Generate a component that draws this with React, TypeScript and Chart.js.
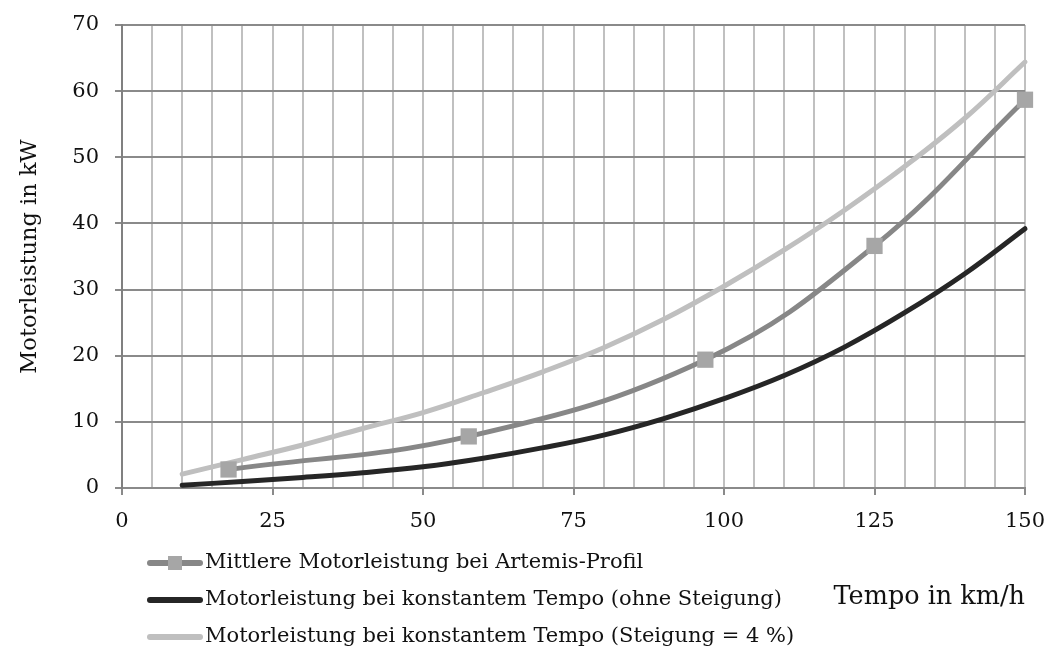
import React, { useEffect, useRef } from "react";
import { Chart, registerables } from "chart.js";

Chart.register(...registerables);

// ---- data ----
const speedGrid = [10, 20, 30, 40, 50, 60, 70, 80, 90, 100, 110, 120, 130, 140, 150];
const powerFlat = [0.4, 1.0, 1.6, 2.3, 3.2, 4.5, 6.1, 8.0, 10.5, 13.5, 17.0, 21.3, 26.5, 32.4, 39.2];
const powerSlope = [2.1, 4.3, 6.5, 9.0, 11.4, 14.4, 17.6, 21.2, 25.5, 30.5, 36.0, 42.0, 48.6, 55.9, 64.4];
const artemisSpeed = [17.7, 57.6, 96.9, 125, 150];
const artemisPower = [2.8, 7.8, 19.4, 36.6, 58.7];

const seriesLabels = [
  "Mittlere Motorleistung bei Artemis-Profil",
  "Motorleistung bei konstantem Tempo (ohne Steigung)",
  "Motorleistung bei konstantem Tempo (Steigung = 4 %)",
];
const xTitle = "Tempo in km/h";
const yTitle = "Motorleistung in kW";

const FONT = "'DejaVu Serif', 'Liberation Serif', serif";
const C_ART = "#878787";
const C_ART_PT = "#a6a6a6";
const C_FLAT = "#262626";
const C_SLOPE = "#bfbfbf";

const legendPlugin = {
  id: "rowLegend",
  afterDraw(chart: any) {
    const ctx = chart.ctx as CanvasRenderingContext2D;
    const rows = [563, 600, 637];
    chart.data.datasets.forEach((ds: any, i: number) => {
      const y = rows[i];
      ctx.save();
      ctx.strokeStyle = ds.borderColor;
      ctx.lineWidth = 6;
      ctx.lineCap = "round";
      ctx.beginPath();
      ctx.moveTo(150, y);
      ctx.lineTo(200, y);
      ctx.stroke();
      if (ds.pointRadius > 0) {
        ctx.fillStyle = ds.pointBackgroundColor;
        ctx.fillRect(168, y - 7, 14, 14);
      }
      ctx.fillStyle = "#111";
      ctx.font = `21px ${FONT}`;
      ctx.textAlign = "left";
      ctx.textBaseline = "middle";
      ctx.fillText(ds.label, 205, y);
      ctx.restore();
    });
  },
};

export default function App() {
  const ref = useRef<HTMLCanvasElement | null>(null);

  useEffect(() => {
    document.body.style.margin = "0";
    if (!ref.current) return;
    const chart = new Chart(ref.current, {
      type: "line",
      data: {
        datasets: [
          {
            label: seriesLabels[0],
            data: artemisSpeed.map((x, i) => ({ x, y: artemisPower[i] })),
            borderColor: C_ART,
            borderWidth: 5,
            pointStyle: "rect",
            pointRadius: 11.5,
            pointBackgroundColor: C_ART_PT,
            pointBorderColor: C_ART_PT,
            pointBorderWidth: 0,
            tension: 0.4,
            borderCapStyle: "round",
            clip: false as any,
          },
          {
            label: seriesLabels[1],
            data: speedGrid.map((x, i) => ({ x, y: powerFlat[i] })),
            borderColor: C_FLAT,
            borderWidth: 5,
            pointRadius: 0,
            tension: 0.4,
            borderCapStyle: "round",
            clip: false as any,
          },
          {
            label: seriesLabels[2],
            data: speedGrid.map((x, i) => ({ x, y: powerSlope[i] })),
            borderColor: C_SLOPE,
            borderWidth: 5,
            pointRadius: 0,
            tension: 0.4,
            borderCapStyle: "round",
            clip: false as any,
          },
        ],
      },
      options: {
        animation: false,
        responsive: true,
        maintainAspectRatio: false,
        layout: { padding: { top: 25, right: 22, bottom: 37, left: 0 } },
        plugins: {
          legend: { display: false },
          tooltip: { enabled: false },
        },
        scales: {
          x: {
            type: "linear",
            min: 0,
            max: 150,
            afterFit: (s: any) => {
              s.height = 125;
              s.paddingLeft = 0;
              s.paddingRight = 0;
            },
            ticks: {
              stepSize: 5,
              autoSkip: false,
              maxRotation: 0,
              padding: 14,
              color: "#111",
              font: { family: FONT, size: 21 },
              callback: (v: any) => (Number(v) % 25 === 0 ? String(v) : ""),
            },
            grid: {
              color: "#c0c0c0",
              lineWidth: 2,
              tickLength: 7,
              tickColor: (c: any) =>
                c.tick && c.tick.value % 25 === 0 ? "#8a8a8a" : "rgba(0,0,0,0)",
            },
            border: { color: "#8a8a8a", width: 2 },
            title: {
              display: true,
              text: xTitle,
              align: "end",
              color: "#111",
              font: { family: FONT, size: 25.5 },
              padding: { top: 0, bottom: 0 },
            },
          },
          y: {
            min: 0,
            max: 70,
            afterFit: (s: any) => {
              s.width = 122;
              s.paddingTop = 0;
              s.paddingBottom = 0;
            },
            ticks: {
              stepSize: 10,
              padding: 16,
              color: "#111",
              font: { family: FONT, size: 21 },
            },
            grid: {
              color: "#8a8a8a",
              lineWidth: 2,
              tickLength: 7,
              tickColor: "#8a8a8a",
            },
            border: { color: "#808080", width: 2 },
            title: {
              display: true,
              text: yTitle,
              color: "#111",
              font: { family: FONT, size: 22.5 },
              padding: { top: 17, bottom: 0 },
            },
          },
        },
      },
      plugins: [legendPlugin],
    });
    return () => chart.destroy();
  }, []);

  return (
    <div style={{ width: 1047, height: 650, position: "relative", background: "#fff" }}>
      <canvas ref={ref} />
    </div>
  );
}
